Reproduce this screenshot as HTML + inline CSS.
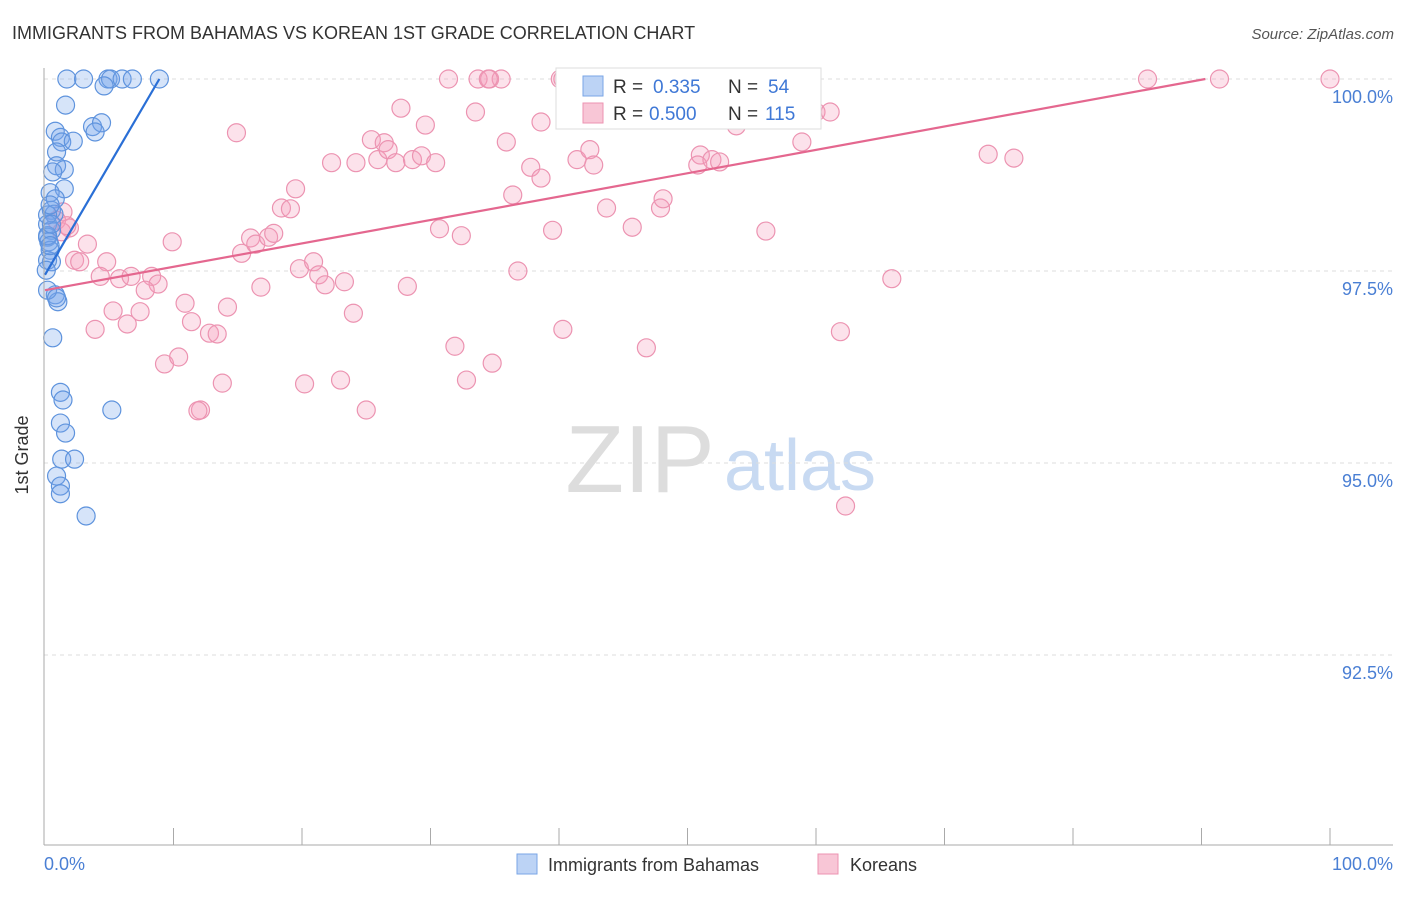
<!DOCTYPE html>
<html><head><meta charset="utf-8"><style>
body{margin:0;background:#fff;font-family:"Liberation Sans",sans-serif}
svg text{font-family:"Liberation Sans",sans-serif}
</style></head><body>
<svg id="c" width="1406" height="892">
<text x="12" y="39" font-size="18" fill="#333">IMMIGRANTS FROM BAHAMAS VS KOREAN 1ST GRADE CORRELATION CHART</text>
<text x="1394" y="39" font-size="15" fill="#555" text-anchor="end" font-style="italic">Source: ZipAtlas.com</text>
<text x="640" y="492" font-size="96" fill="#ddd" text-anchor="middle" font-family="Liberation Serif">ZIP</text>
<text x="800" y="490" font-size="72" fill="#c8daf2" text-anchor="middle">atlas</text>
<g id="grid"></g><g id="marks"></g>
<line x1="44" y1="68" x2="44" y2="845" stroke="#aaa"/>
<line x1="44" y1="845" x2="1393" y2="845" stroke="#aaa"/>
<text x="28" y="455" font-size="18" fill="#333" text-anchor="middle" transform="rotate(-90 28 455)">1st Grade</text>
<text x="44" y="870" font-size="18" fill="#4a7fd4">0.0%</text>
<text x="1393" y="870" font-size="18" fill="#4a7fd4" text-anchor="end">100.0%</text>
<g>
<rect x="556" y="68" width="265" height="61" fill="#fff" stroke="#ddd"/>
<rect x="583" y="76" width="20" height="20" fill="#bcd3f5" stroke="#7aa6e6"/>
<text x="613" y="93" font-size="19" fill="#333">R = </text><text x="653" y="93" font-size="19" fill="#3f78d6">0.335</text>
<text x="728" y="93" font-size="19" fill="#333">N = </text><text x="768" y="93" font-size="19" fill="#3f78d6">54</text>
<rect x="583" y="103" width="20" height="20" fill="#f8c6d6" stroke="#ec93b1"/>
<text x="613" y="120" font-size="19" fill="#333">R = </text><text x="649" y="120" font-size="19" fill="#3f78d6">0.500</text>
<text x="728" y="120" font-size="19" fill="#333">N = </text><text x="765" y="120" font-size="19" fill="#3f78d6">115</text>
</g>
<g>
<rect x="517" y="854" width="20" height="20" fill="#bcd3f5" stroke="#7aa6e6"/>
<text x="548" y="871" font-size="18" fill="#333">Immigrants from Bahamas</text>
<rect x="818" y="854" width="20" height="20" fill="#f8c6d6" stroke="#ec93b1"/>
<text x="850" y="871" font-size="18" fill="#333">Koreans</text>
</g>
</svg>
<script>
const yTicks=[100,97.5,95,92.5];
const yTickLabels=["100.0%","97.5%","95.0%","92.5%"];
const xTicks=[10,20,30,40,50,60,70,80,90,100];
const bahamas=[[1.7,100],[3.0,100],[4.9,100],[5.1,100],[6.0,100],[6.8,100],[8.9,100],[4.6,99.91],[1.6,99.66],[0.8,99.32],[1.2,99.24],[1.3,99.18],[2.2,99.19],[3.7,99.38],[4.4,99.43],[3.9,99.31],[0.9,99.05],[0.9,98.87],[1.5,98.82],[0.6,98.79],[1.5,98.57],[0.4,98.52],[0.8,98.44],[0.5,98.29],[0.7,98.24],[0.2,98.11],[0.5,98.03],[0.2,97.94],[0.3,97.88],[0.4,97.77],[0.5,97.62],[0.8,97.19],[1.0,97.10],[0.6,96.63],[1.2,95.92],[1.4,95.82],[1.2,95.52],[1.6,95.39],[1.3,95.05],[2.3,95.05],[0.9,94.83],[1.2,94.70],[1.2,94.60],[3.2,94.31],[5.2,95.69],[0.2,97.64],[0.2,98.23],[0.4,98.36],[0.2,97.96],[0.5,98.11],[0.1,97.51],[0.2,97.25],[0.9,97.15],[0.4,97.83]];
const koreans=[[1.4,98.27],[0.9,98.16],[1.9,98.06],[1.3,98.01],[1.7,98.09],[3.3,97.85],[2.3,97.64],[2.7,97.62],[4.8,97.62],[4.3,97.43],[5.8,97.40],[6.7,97.43],[8.3,97.43],[8.8,97.33],[7.8,97.25],[5.3,96.98],[7.4,96.97],[6.4,96.81],[3.9,96.74],[9.9,97.88],[10.9,97.08],[11.4,96.84],[12.8,96.69],[13.4,96.68],[14.2,97.03],[9.3,96.29],[10.4,96.38],[12.1,95.69],[11.9,95.68],[13.8,96.04],[14.9,99.30],[15.3,97.73],[16.0,97.93],[16.4,97.85],[17.4,97.94],[17.8,97.99],[16.8,97.29],[18.4,98.32],[19.1,98.31],[19.5,98.57],[19.8,97.53],[20.9,97.62],[21.3,97.45],[21.8,97.32],[23.3,97.36],[24.0,96.95],[20.2,96.03],[23.0,96.08],[25.0,95.69],[22.3,98.91],[24.2,98.91],[25.4,99.21],[25.9,98.95],[26.4,99.17],[26.7,99.08],[27.3,98.91],[27.7,99.62],[28.2,97.30],[28.6,98.95],[29.3,99.00],[29.6,99.40],[30.4,98.91],[30.7,98.05],[32.4,97.96],[31.4,100],[33.7,100],[34.6,100],[35.5,100],[33.5,99.57],[34.5,100],[31.9,96.52],[32.8,96.08],[34.8,96.30],[35.9,99.18],[36.4,98.49],[36.8,97.50],[37.8,98.85],[38.6,98.71],[38.6,99.44],[39.5,98.03],[40.1,100],[40.3,100],[40.3,96.74],[41.4,98.95],[42.4,99.08],[42.7,98.88],[43.7,98.32],[45.7,98.07],[46.8,96.50],[47.9,98.32],[48.1,98.44],[51.0,99.01],[50.8,98.88],[51.9,98.95],[52.5,98.92],[53.7,99.57],[53.8,99.39],[55.4,100],[56.1,98.02],[58.4,100],[58.9,99.18],[60.0,99.57],[61.1,99.57],[61.9,96.71],[62.3,94.44],[65.9,97.40],[73.4,99.02],[75.4,98.97],[85.8,100],[91.4,100],[100,100],[44.7,100],[47.1,100],[49.8,100]];
const bahamasTrend=[[0,97.45],[8.9,100]];
const koreansTrend=[[0,97.25],[90.3,100]];
const NS="http://www.w3.org/2000/svg";
const X=v=>45+v*12.85, Y=v=>79+(100-v)*76.8;
const grid=document.getElementById('grid'),marks=document.getElementById('marks');
function mk(tag,attrs,parent){const e=document.createElementNS(NS,tag);for(const k in attrs)e.setAttribute(k,attrs[k]);parent.appendChild(e);return e;}
yTicks.forEach((t,i)=>{
 const l=mk('line',{x1:44,x2:1393,y1:Y(t),y2:Y(t),stroke:'#ddd','stroke-dasharray':'4,4'},grid);
 
 
 const tx=mk('text',{x:1393,y:Y(t)+24,'font-size':18,fill:'#4a7fd4','text-anchor':'end'},grid);
 tx.textContent=yTickLabels[i];
 
 
});
xTicks.forEach(t=>{
 const l=mk('line',{x1:X(t),x2:X(t),y1:828,y2:845,stroke:'#aaa'},grid);
 
 
});
function pts(arr,fill,stroke,name){arr.forEach(p=>{
 const c=mk('circle',{cx:X(p[0]),cy:Y(p[1]),r:9,fill:fill,stroke:stroke,'stroke-width':1.2},marks);
 
 
});}
pts(koreans,'rgba(244,160,188,0.3)','#ec93b1','korean-point');
pts(bahamas,'rgba(120,165,235,0.3)','#5e93dd','bahamas-point');
function trend(a,col,name){
 const l=mk('line',{x1:X(a[0][0]),y1:Y(a[0][1]),x2:X(a[1][0]),y2:Y(a[1][1]),stroke:col,'stroke-width':2.2},marks);
 
 
}
trend(koreansTrend,'#e4678f','korean-trend-line');
trend(bahamasTrend,'#2a6fd6','bahamas-trend-line');
</script>
</body></html>
